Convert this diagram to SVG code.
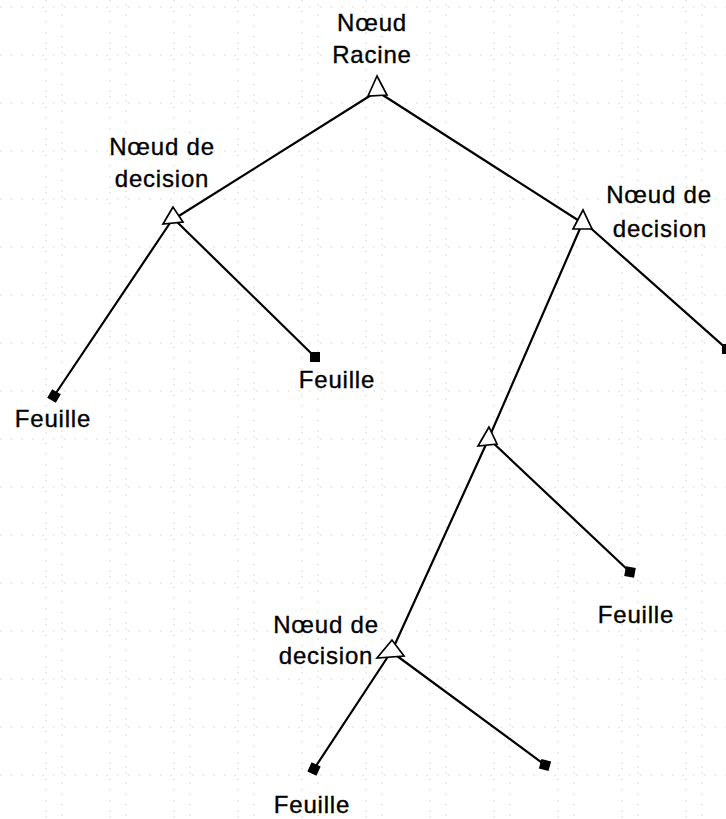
<svg xmlns="http://www.w3.org/2000/svg" width="726" height="819" viewBox="0 0 726 819">
  <style>
    .edge { stroke: #000; stroke-width: 2.2; fill: none; stroke-linecap: round; }
    .split { fill: #fff; stroke: #000; stroke-width: 1.7; stroke-linejoin: miter; }
    .leaf { fill: #000; }
    .lbl { font-family: "Liberation Sans", Arial, sans-serif; font-size: 24px; letter-spacing: 0.8px; fill: #000; stroke: #000; stroke-width: 0.35; text-anchor: middle; }
    .grid { stroke: #e3e3e3; stroke-width: 1.6; stroke-dasharray: 1.6 9; fill: none; }
  </style>
  <defs>
    <pattern id="dotgrid" x="0" y="0" width="64" height="48" patternUnits="userSpaceOnUse">
      <line class="grid" x1="46" y1="0" x2="46" y2="48"/>
      <line class="grid" x1="62" y1="4" x2="62" y2="48"/>
      <line class="grid" x1="0" y1="7" x2="64" y2="7"/>
    </pattern>
  </defs>

  <!-- background with faint dotted grid -->
  <rect width="726" height="819" fill="#fff"/>
  <rect width="726" height="819" fill="url(#dotgrid)"/>

  <!-- connectors -->
  <g id="connectors">
    <line class="edge" x1="376" y1="92" x2="174" y2="219"/>
    <line class="edge" x1="378" y1="92" x2="584" y2="224"/>
    <line class="edge" x1="172" y1="220" x2="54" y2="396"/>
    <line class="edge" x1="174" y1="219" x2="315" y2="357"/>
    <line class="edge" x1="582" y1="224" x2="488" y2="440"/>
    <line class="edge" x1="586" y1="224" x2="728" y2="350"/>
    <line class="edge" x1="488" y1="440" x2="391" y2="653"/>
    <line class="edge" x1="490" y1="440" x2="630" y2="572"/>
    <line class="edge" x1="389" y1="655" x2="314" y2="769"/>
    <line class="edge" x1="393" y1="653" x2="545" y2="765"/>
  </g>

  <!-- root -->
  <g id="root">
    <polygon class="split" points="377,76 368,96 387,95"/>
    <text class="lbl" x="372" y="31">Nœud</text>
    <text class="lbl" x="372" y="63">Racine</text>
  </g>

  <!-- decision nodes -->
  <g id="decision-left">
    <polygon class="split" points="173,207 163,224 183,222"/>
    <text class="lbl" x="162" y="155">Nœud de</text>
    <text class="lbl" x="162" y="187">decision</text>
  </g>
  <g id="decision-right">
    <polygon class="split" points="583,210 573,229 592,229"/>
    <text class="lbl" x="659" y="203">Nœud de</text>
    <text class="lbl" x="660" y="237">decision</text>
  </g>
  <g id="decision-middle">
    <polygon class="split" points="489,427 478,446 497,444"/>
  </g>
  <g id="decision-lower">
    <polygon class="split" points="392,640 377,658 404,656"/>
    <text class="lbl" x="326" y="633">Nœud de</text>
    <text class="lbl" x="326" y="664">decision</text>
  </g>

  <!-- leaves -->
  <g id="leaf-1">
    <rect class="leaf" x="49" y="391" width="10" height="10" transform="rotate(30 54 396)"/>
    <text class="lbl" x="53" y="427">Feuille</text>
  </g>
  <g id="leaf-2">
    <rect class="leaf" x="310" y="352" width="10" height="10"/>
    <text class="lbl" x="337" y="388">Feuille</text>
  </g>
  <g id="leaf-3">
    <rect class="leaf" x="722" y="344" width="10" height="10"/>
  </g>
  <g id="leaf-4">
    <rect class="leaf" x="625" y="567" width="10" height="10" transform="rotate(10 630 572)"/>
    <text class="lbl" x="636" y="623">Feuille</text>
  </g>
  <g id="leaf-5">
    <rect class="leaf" x="309" y="764" width="10" height="10" transform="rotate(25 314 769)"/>
    <text class="lbl" x="312" y="813">Feuille</text>
  </g>
  <g id="leaf-6">
    <rect class="leaf" x="540" y="760" width="10" height="10" transform="rotate(15 545 765)"/>
  </g>
</svg>
